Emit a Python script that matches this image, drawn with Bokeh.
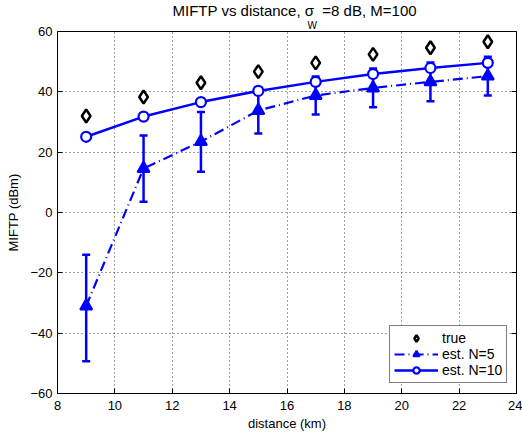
from bokeh.plotting import figure
from bokeh.models import (FixedTicker, Whisker, TeeHead, ColumnDataSource, Legend,
                          LegendItem, Title, Range1d, LinearAxis)
from bokeh.embed import file_html
from bokeh.resources import INLINE

# ---- data ----
distance = [9, 11, 13, 15, 17, 19, 21, 23]
true_vals = [32.0, 38.3, 43.0, 46.7, 49.6, 52.4, 54.6, 56.6]
n5_mean = [-31.0, 14.6, 23.5, 33.8, 38.8, 41.3, 43.3, 45.2]
n5_lower = [-49.3, 3.6, 13.5, 26.2, 32.5, 34.9, 36.9, 38.8]
n5_upper = [-14.0, 25.5, 33.3, 41.4, 45.1, 47.7, 49.7, 51.6]
n10_mean = [25.1, 31.8, 36.6, 40.3, 43.3, 45.9, 47.9, 49.6]
n10_lower = [24.5, 31.0, 35.8, 39.4, 42.3, 44.9, 46.9, 48.6]
n10_upper = [25.7, 32.6, 37.4, 41.2, 44.3, 46.9, 48.9, 50.6]

x_ticks = [8, 10, 12, 14, 16, 18, 20, 22, 24]
y_ticks = [-60, -40, -20, 0, 20, 40, 60]
y_tick_labels = ["\u221260", "\u221240", "\u221220", "0", "20", "40", "60"]

title_main = "MIFTP vs distance, \u03c3\u00a0\u00a0=8 dB, M=100"
title_sub = "W"

BLUE = "#0000ff"
FONT = "Liberation Sans"

p = figure(width=522, height=436, output_backend="svg", toolbar_location=None,
           title=None, x_range=Range1d(8, 24), y_range=Range1d(-60, 60),
           min_border_left=57, min_border_right=6, min_border_top=31,
           min_border_bottom=43)
p.background_fill_color = "white"
p.border_fill_color = "white"
p.outline_line_color = "black"
p.outline_line_width = 1

# title: subscript row nearest the frame, main row above it
t_sub = Title(text=title_sub, align="left", offset=250, standoff=-2,
              vertical_align="top",
              text_font=FONT, text_font_size="10px", text_font_style="normal",
              text_color="black")
t_main = Title(text=title_main, align="left", offset=115, standoff=0,
               vertical_align="top",
               text_font=FONT, text_font_size="15px", text_font_style="normal",
               text_color="black")
p.add_layout(t_sub, "above")
p.add_layout(t_main, "above")

# box-style ticks on the right (no labels)
right_ax = LinearAxis(ticker=FixedTicker(ticks=y_ticks))
right_ax.major_label_overrides = {t: "" for t in y_ticks}
right_ax.axis_line_color = None
right_ax.major_tick_in = 5
right_ax.major_tick_out = 0
right_ax.minor_tick_line_color = None
right_ax.major_label_standoff = 0
p.add_layout(right_ax, "right")

xa = p.below[0]
ya = p.left[0]
for ax in (xa, ya):
    ax.axis_line_color = "black"
    ax.axis_line_width = 1
    ax.major_tick_in = 5
    ax.major_tick_out = 0
    ax.minor_tick_line_color = None
    ax.major_tick_line_color = "black"
    ax.major_label_text_font = FONT
    ax.major_label_text_font_size = "13px"
    ax.major_label_text_color = "black"
    ax.axis_label_text_font = FONT
    ax.axis_label_text_font_size = "13px"
    ax.axis_label_text_font_style = "normal"
    ax.axis_label_text_color = "black"

xa.ticker = FixedTicker(ticks=x_ticks)
ya.ticker = FixedTicker(ticks=y_ticks)
ya.major_label_overrides = {t: s for t, s in zip(y_ticks, y_tick_labels)}
xa.major_label_standoff = 7
ya.major_label_standoff = 5
xa.axis_label_standoff = 3
ya.axis_label_standoff = 6
xa.axis_label = "distance (km)"
ya.axis_label = "MIFTP (dBm)"

p.xgrid.ticker = FixedTicker(ticks=x_ticks)
p.ygrid.ticker = FixedTicker(ticks=y_ticks)
for g in (p.xgrid, p.ygrid):
    g.grid_line_color = "#444444"
    g.grid_line_dash = "1 3"
    g.grid_line_width = 1

# N=10 series
src10 = ColumnDataSource(dict(x=distance, y=n10_mean, lo=n10_lower, hi=n10_upper))
r10line = p.line("x", "y", source=src10, line_color=BLUE, line_width=2.5)
p.add_layout(Whisker(source=src10, base="x", lower="lo", upper="hi", dimension="height",
                     line_color=BLUE, line_width=2.5,
                     upper_head=TeeHead(size=8, line_color=BLUE, line_width=2.5),
                     lower_head=TeeHead(size=8, line_color=BLUE, line_width=2.5)))
r10mark = p.scatter("x", "y", source=src10, marker="circle", size=10,
                    line_color=BLUE, line_width=2.2, fill_color="white")

# N=5 series
src5 = ColumnDataSource(dict(x=distance, y=n5_mean, lo=n5_lower, hi=n5_upper))
r5line = p.line("x", "y", source=src5, line_color=BLUE, line_width=2.2, line_dash="10 4 1 4")
p.add_layout(Whisker(source=src5, base="x", lower="lo", upper="hi", dimension="height",
                     line_color=BLUE, line_width=2.5,
                     upper_head=TeeHead(size=8, line_color=BLUE, line_width=2.5),
                     lower_head=TeeHead(size=8, line_color=BLUE, line_width=2.5)))
r5mark = p.scatter("x", "y", source=src5, marker="triangle", size=12,
                   line_color=BLUE, line_width=2, fill_color=BLUE)

# true values
srct = ColumnDataSource(dict(x=distance, y=true_vals))
rtrue = p.scatter("x", "y", source=srct, marker="diamond", size=13,
                  line_color="black", line_width=2.5, fill_color="white")

legend = Legend(items=[LegendItem(label="true", renderers=[rtrue]),
                       LegendItem(label="est. N=5", renderers=[r5line, r5mark]),
                       LegendItem(label="est. N=10", renderers=[r10line, r10mark])],
                location=(332, 10))
legend.label_text_font = FONT
legend.label_text_font_size = "14px"
legend.label_text_color = "black"
legend.border_line_color = "black"
legend.border_line_width = 1
legend.background_fill_color = "white"
legend.background_fill_alpha = 1
legend.padding = 4
legend.spacing = 0
legend.margin = 0
legend.glyph_width = 44
legend.glyph_height = 16
legend.label_height = 16
legend.label_standoff = 4
p.add_layout(legend)

open("out.html", "w").write(file_html(p, INLINE))
